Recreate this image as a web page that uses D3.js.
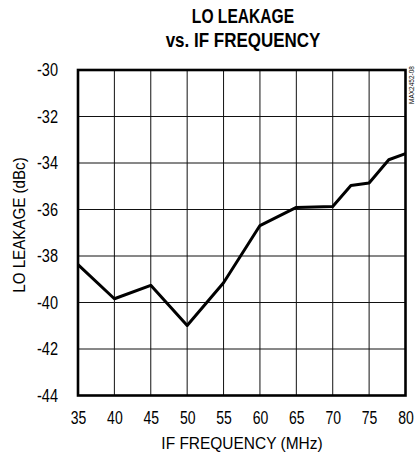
<!DOCTYPE html>
<html>
<head>
<meta charset="utf-8">
<script src="https://cdn.jsdelivr.net/npm/d3@7"></script>
<style>
  html, body { margin: 0; padding: 0; background: #fff; }
  svg { display: block; }
  text { font-family: "Liberation Sans", Arial, sans-serif; fill: #000; }
</style>
</head>
<body>
<svg id="chart" width="418" height="454"></svg>
<script>
const freqs = [35, 40, 45, 50, 55, 60, 65, 70, 72.5, 75, 77.7, 80];
const leakage = [-38.37, -39.84, -39.26, -40.99, -39.15, -36.69, -35.91, -35.87, -34.97, -34.86, -33.86, -33.6];
const xTicks = [35, 40, 45, 50, 55, 60, 65, 70, 75, 80];
const yTicks = [-30, -32, -34, -36, -38, -40, -42, -44];
const titleLines = ["LO LEAKAGE", "vs. IF FREQUENCY"];
const xLabel = "IF FREQUENCY (MHz)";
const yLabel = "LO LEAKAGE (dBc)";
const tag = "MAX2452-08";

const svg = d3.select("#chart");
const pL = 78, pR = 405.5, pT = 70, pB = 395.5;

// narrow the glyphs to imitate a condensed face
function condense(sel, f) {
  sel.each(function () {
    const len = this.getComputedTextLength();
    d3.select(this).attr("textLength", len * f).attr("lengthAdjust", "spacingAndGlyphs");
  });
}

const x = d3.scaleLinear().domain([35, 80]).range([pL, pR]);
const y = d3.scaleLinear().domain([-44, -30]).range([pB, pT]);

// grid
svg.append("g").selectAll("line").data(xTicks.slice(1, -1)).join("line")
  .attr("x1", d => x(d)).attr("x2", d => x(d))
  .attr("y1", pT).attr("y2", pB)
  .attr("stroke", "#111").attr("stroke-width", 1);
svg.append("g").selectAll("line").data(yTicks.slice(1, -1)).join("line")
  .attr("x1", pL).attr("x2", pR)
  .attr("y1", d => y(d)).attr("y2", d => y(d))
  .attr("stroke", "#111").attr("stroke-width", 1);

// data line
const line = d3.line().x((d, i) => x(freqs[i])).y(d => y(d));
svg.append("path").datum(leakage)
  .attr("d", line)
  .attr("fill", "none").attr("stroke", "#000").attr("stroke-width", 3)
  .attr("stroke-linejoin", "round").attr("stroke-linecap", "butt");

// frame
svg.append("rect")
  .attr("x", pL).attr("y", pT)
  .attr("width", pR - pL).attr("height", pB - pT)
  .attr("fill", "none").attr("stroke", "#000").attr("stroke-width", 2.6);

// axes (labels only)
const xAxis = d3.axisBottom(x).tickValues(xTicks).tickSize(0).tickPadding(16).tickFormat(d3.format("d"));
const gx = svg.append("g").attr("transform", `translate(0,${pB})`).call(xAxis);
gx.select(".domain").remove();
gx.attr("font-family", null).attr("font-size", 17.5);
condense(gx.selectAll("text"), 0.8);

const yAxis = d3.axisLeft(y).tickValues(yTicks).tickSize(0).tickPadding(20).tickFormat(d => "-" + Math.abs(d));
const gy = svg.append("g").attr("transform", `translate(${pL},0)`).call(yAxis);
gy.select(".domain").remove();
gy.attr("font-family", null).attr("font-size", 17.5);
condense(gy.selectAll("text"), 0.83);

// titles
const tl = svg.append("g").selectAll("text").data(titleLines).join("text")
  .attr("x", 243).attr("y", (d, i) => 23 + i * 24)
  .attr("text-anchor", "middle")
  .attr("font-size", 19.5).attr("font-weight", "bold")
  .text(d => d);
tl.each(function (d, i) { condense(d3.select(this), i === 0 ? 0.8 : 0.87); });

const xl = svg.append("text")
  .attr("x", 242).attr("y", 449)
  .attr("text-anchor", "middle").attr("font-size", 17)
  .text(xLabel);
condense(xl, 0.91);

const yl = svg.append("text")
  .attr("transform", `translate(25,225) rotate(-90)`)
  .attr("text-anchor", "middle").attr("font-size", 17)
  .text(yLabel);
condense(yl, 0.89);

svg.append("text")
  .attr("transform", `translate(414,104) rotate(-90)`)
  .attr("text-anchor", "start").attr("font-size", 6.5)
  .text(tag);
</script>
</body>
</html>
